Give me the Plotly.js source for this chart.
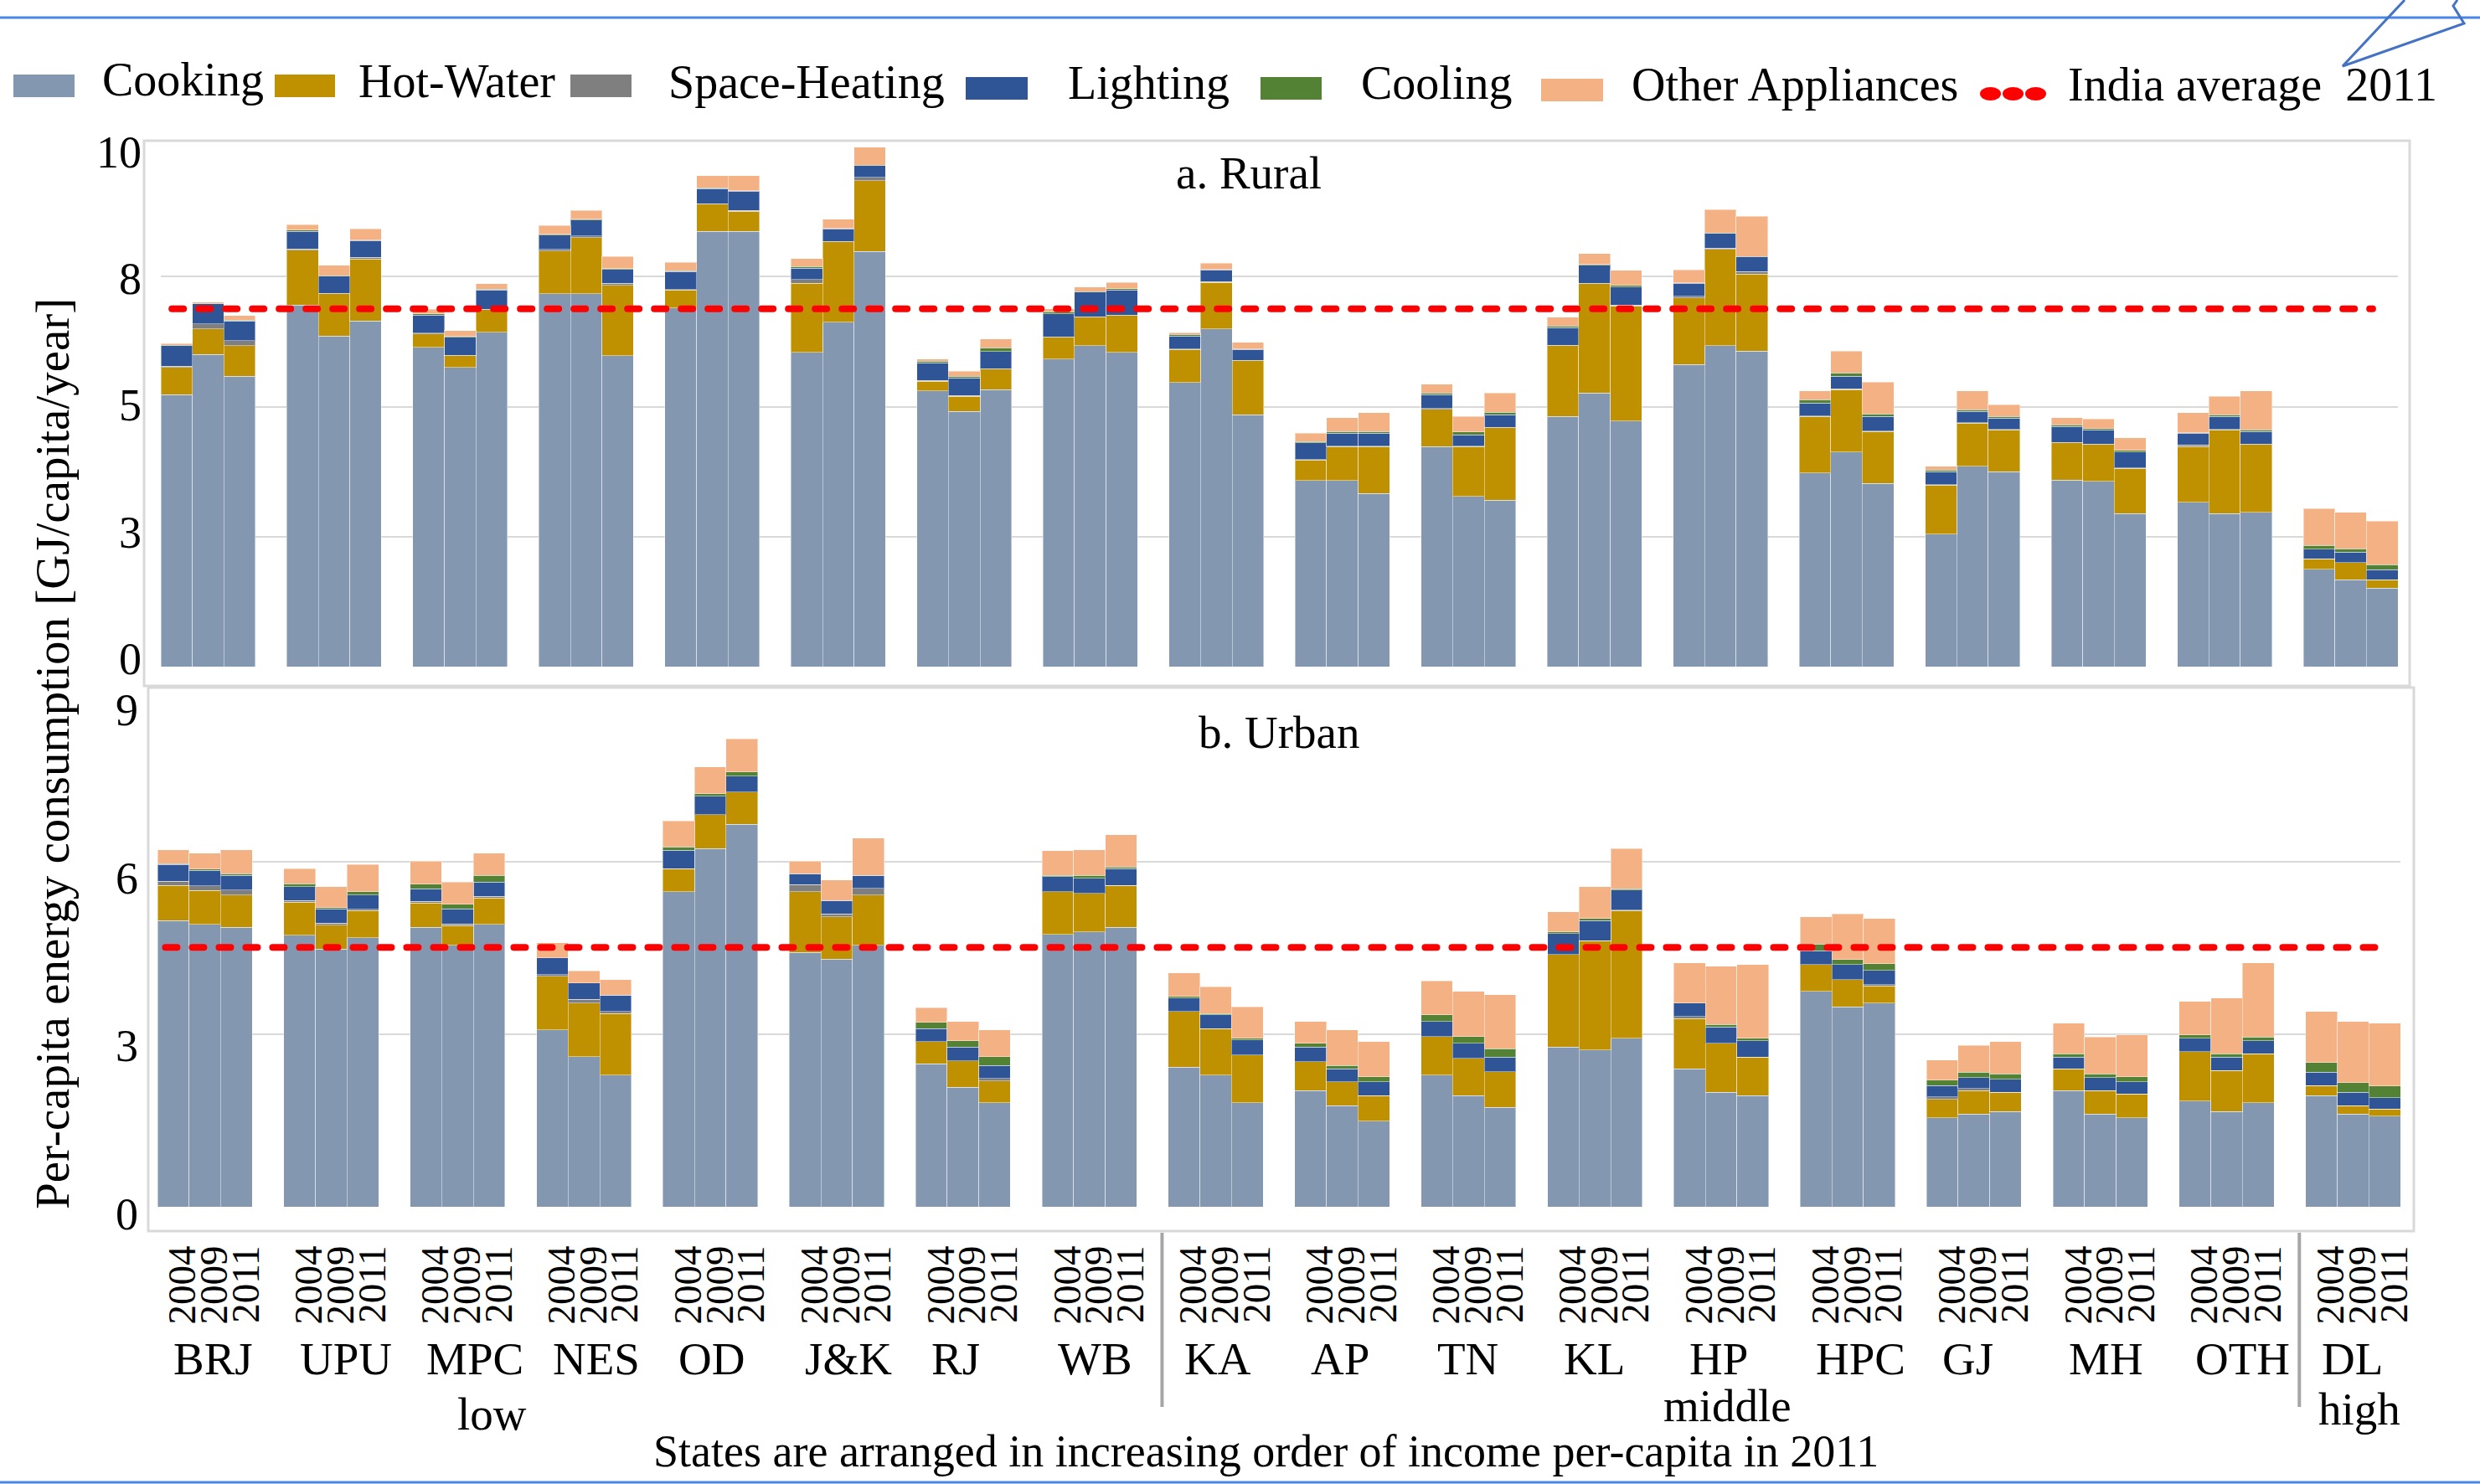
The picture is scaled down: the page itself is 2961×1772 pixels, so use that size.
<!DOCTYPE html>
<html>
<head>
<meta charset="utf-8">
<script src="https://cdn.plot.ly/plotly-3.0.1.min.js"></script>
<style>
html,body{margin:0;padding:0;background:#fff;}
#chart{width:2961px;height:1772px;}
</style>
</head>
<body>
<div id="chart"></div>
<script>
// ---------------- DATA ----------------
const states = ['BRJ','UPU','MPC','NES','OD','J&K','RJ','WB','KA','AP','TN','KL','HP','HPC','GJ','MH','OTH','DL'];
const years = ['2004','2009','2011'];
const incomeGroups = ['low','middle','high'];
const seriesNames = ['Cooking','Hot-Water','Space-Heating','Lighting','Cooling','Other Appliances'];
const averageName = 'India average  2011';

// Rural, GJ/capita/year (state order above, 3 years each)
const ruralCooking = [5.23,6.00,5.58, 6.95,6.36,6.65, 6.14,5.75,6.43, 7.17,7.17,5.98, 6.90,8.37,8.37, 6.04,6.62,7.98, 5.30,4.91,5.33, 5.91,6.17,6.04, 5.46,6.49,4.84, 3.58,3.58,3.33, 4.23,3.27,3.20, 4.81,5.26,4.72, 5.81,6.17,6.07, 3.72,4.13,3.52, 2.55,3.85,3.75, 3.59,3.56,2.94, 3.16,2.94,2.97, 1.87,1.67,1.51];
const ruralHotWater = [0.52,0.49,0.59, 1.06,0.81,1.19, 0.26,0.23,0.43, 0.82,1.08,1.35, 0.34,0.52,0.39, 1.33,1.55,1.36, 0.19,0.29,0.39, 0.42,0.55,0.71, 0.64,0.90,1.04, 0.39,0.65,0.90, 0.72,0.96,1.39, 1.36,2.10,2.22, 1.28,1.85,1.48, 1.09,1.20,1.00, 0.94,0.83,0.80, 0.71,0.71,0.87, 1.07,1.61,1.30, 0.20,0.33,0.16];
const ruralSpaceHeating = [0.03,0.10,0.10, 0.02,0.01,0.03, 0.01,0.01,0.01, 0.03,0.03,0.04, 0.01,0.01,0.01, 0.07,0.01,0.07, 0.01,0.01,0.01, 0.01,0.01,0.01, 0.01,0.01,0.01, 0.01,0.01,0.01, 0.01,0.01,0.01, 0.01,0.01,0.01, 0.03,0.03,0.05, 0.01,0.01,0.01, 0.01,0.01,0.01, 0.01,0.01,0.01, 0.03,0.01,0.01, 0.00,0.00,0.00];
const ruralLighting = [0.39,0.39,0.38, 0.34,0.33,0.32, 0.35,0.34,0.37, 0.28,0.31,0.27, 0.35,0.29,0.37, 0.22,0.24,0.22, 0.34,0.34,0.33, 0.44,0.47,0.48, 0.25,0.23,0.21, 0.32,0.25,0.25, 0.27,0.22,0.24, 0.34,0.35,0.35, 0.25,0.28,0.28, 0.25,0.24,0.28, 0.25,0.22,0.22, 0.31,0.27,0.31, 0.23,0.25,0.24, 0.19,0.20,0.19];
const ruralCoolingUse = [0.01,0.00,0.01, 0.02,0.01,0.01, 0.02,0.02,0.02, 0.01,0.01,0.01, 0.01,0.02,0.01, 0.03,0.01,0.01, 0.03,0.03,0.07, 0.04,0.01,0.03, 0.03,0.01,0.01, 0.03,0.03,0.03, 0.03,0.05,0.05, 0.03,0.01,0.03, 0.01,0.01,0.01, 0.06,0.07,0.05, 0.03,0.03,0.03, 0.03,0.03,0.03, 0.01,0.03,0.03, 0.07,0.07,0.10];
const ruralOther = [0.03,0.03,0.09, 0.11,0.20,0.22, 0.09,0.11,0.10, 0.17,0.17,0.24, 0.16,0.23,0.29, 0.16,0.17,0.35, 0.04,0.10,0.17, 0.06,0.09,0.12, 0.03,0.12,0.13, 0.16,0.27,0.36, 0.17,0.30,0.37, 0.17,0.21,0.29, 0.25,0.45,0.77, 0.17,0.42,0.61, 0.07,0.36,0.23, 0.14,0.18,0.24, 0.38,0.36,0.75, 0.71,0.70,0.84];

// Urban, GJ/capita/year
const urbanCooking = [4.98,4.91,4.86, 4.72,4.48,4.68, 4.86,4.55,4.91, 3.08,2.61,2.29, 5.48,6.23,6.65, 4.42,4.31,4.55, 2.49,2.08,1.81, 4.74,4.78,4.86, 2.43,2.29,1.81, 2.02,1.76,1.49, 2.29,1.93,1.73, 2.78,2.73,2.93, 2.40,1.99,1.93, 3.75,3.48,3.54, 1.55,1.61,1.66, 2.02,1.61,1.55, 1.84,1.66,1.81, 1.93,1.61,1.58];
const urbanHotWater = [0.61,0.59,0.56, 0.58,0.42,0.47, 0.42,0.34,0.46, 0.93,0.93,1.07, 0.40,0.59,0.56, 1.06,0.73,0.87, 0.38,0.46,0.38, 0.74,0.67,0.73, 0.97,0.81,0.83, 0.50,0.41,0.44, 0.67,0.65,0.62, 1.61,1.90,2.22, 0.87,0.85,0.67, 0.46,0.47,0.30, 0.32,0.41,0.33, 0.38,0.41,0.41, 0.86,0.71,0.85, 0.18,0.15,0.12];
const urbanSpaceHeating = [0.07,0.08,0.09, 0.03,0.03,0.02, 0.03,0.03,0.03, 0.03,0.07,0.04, 0.00,0.00,0.00, 0.12,0.05,0.12, 0.00,0.00,0.04, 0.00,0.00,0.00, 0.00,0.00,0.00, 0.00,0.00,0.00, 0.00,0.00,0.00, 0.00,0.00,0.01, 0.04,0.00,0.00, 0.00,0.00,0.02, 0.04,0.04,0.00, 0.00,0.00,0.00, 0.00,0.00,0.00, 0.00,0.00,0.00];
const urbanLighting = [0.29,0.27,0.25, 0.24,0.25,0.25, 0.22,0.26,0.25, 0.29,0.28,0.28, 0.32,0.32,0.28, 0.19,0.24,0.22, 0.23,0.24,0.23, 0.26,0.26,0.29, 0.23,0.24,0.26, 0.26,0.23,0.24, 0.26,0.26,0.25, 0.36,0.35,0.35, 0.23,0.29,0.29, 0.24,0.26,0.25, 0.20,0.19,0.23, 0.20,0.23,0.21, 0.23,0.23,0.23, 0.23,0.23,0.20];
const urbanCoolingUse = [0.02,0.02,0.03, 0.05,0.02,0.06, 0.08,0.08,0.11, 0.00,0.00,0.00, 0.06,0.04,0.07, 0.00,0.00,0.00, 0.11,0.11,0.15, 0.02,0.05,0.03, 0.03,0.02,0.03, 0.06,0.06,0.09, 0.12,0.12,0.15, 0.03,0.03,0.02, 0.00,0.04,0.04, 0.12,0.09,0.12, 0.09,0.09,0.09, 0.06,0.06,0.09, 0.06,0.06,0.06, 0.17,0.17,0.20];
const urbanOther = [0.24,0.28,0.42, 0.26,0.37,0.47, 0.40,0.39,0.39, 0.26,0.21,0.27, 0.45,0.47,0.58, 0.22,0.35,0.65, 0.25,0.33,0.47, 0.43,0.45,0.56, 0.41,0.47,0.55, 0.38,0.62,0.61, 0.59,0.79,0.94, 0.35,0.56,0.70, 0.70,1.01,1.28, 0.47,0.79,0.78, 0.35,0.47,0.56, 0.53,0.64,0.73, 0.58,0.97,1.29, 0.89,1.06,1.09];

const ruralAverage2011 = 6.88;
const urbanAverage2011 = 4.51;

const ruralTickVals = [0, 2.5, 5, 7.5, 10];
const ruralTickText = ['0', '3', '5', '8', '10'];
const urbanTickVals = [0, 3, 6, 9];
const urbanTickText = ['0', '3', '6', '9'];

// ---------------- STYLE ----------------
const seriesColors = ['#8497B0', '#BF9000', '#7F7F7F', '#2F5597', '#548235', '#F4B183'];
const FONT = 'Liberation Serif, Times New Roman, serif';
const W = 2961, H = 1772;
const px = v => v / W;
const py = v => 1 - v / H;

// category positions: one slot per year, one empty slot between states
const positions = [];
const yearLabels = [];
states.forEach((s, i) => years.forEach((y, j) => { positions.push(4 * i + j); yearLabels.push(y); }));
const lastPos = positions[positions.length - 1];

const ruralSeries = [ruralCooking, ruralHotWater, ruralSpaceHeating, ruralLighting, ruralCoolingUse, ruralOther];
const urbanSeries = [urbanCooking, urbanHotWater, urbanSpaceHeating, urbanLighting, urbanCoolingUse, urbanOther];

const traces = [];
seriesNames.forEach((name, k) => {
  traces.push({
    type: 'bar', name: name, x: positions, y: ruralSeries[k], xaxis: 'x', yaxis: 'y',
    marker: {color: seriesColors[k], line: {color: 'rgba(255,255,255,0.45)', width: 1}},
    showlegend: false, legendgroup: name
  });
});
seriesNames.forEach((name, k) => {
  traces.push({
    type: 'bar', name: name, x: positions, y: urbanSeries[k], xaxis: 'x2', yaxis: 'y2',
    marker: {color: seriesColors[k], line: {color: 'rgba(255,255,255,0.45)', width: 1}},
    showlegend: false, legendgroup: name
  });
});
traces.push({
  type: 'scatter', mode: 'lines', name: averageName, x: [positions[0] - 0.15, lastPos - 0.3],
  y: [ruralAverage2011, ruralAverage2011], xaxis: 'x', yaxis: 'y',
  line: {color: '#FF0000', width: 8, dash: '14px,18px'}, showlegend: false
});
traces.push({
  type: 'scatter', mode: 'lines', name: averageName, x: [positions[0] - 0.25, lastPos + 0.15],
  y: [urbanAverage2011, urbanAverage2011], xaxis: 'x2', yaxis: 'y2',
  line: {color: '#FF0000', width: 8, dash: '14px,18px'}, showlegend: false
});
// empty traces that carry the tick-label axes (labels sit slightly off the gridlines, as in the original)
traces.push({type: 'scatter', mode: 'lines', x: [], y: [], xaxis: 'x', yaxis: 'y3', showlegend: false, hoverinfo: 'skip'});
traces.push({type: 'scatter', mode: 'lines', x: [], y: [], xaxis: 'x2', yaxis: 'y4', showlegend: false, hoverinfo: 'skip'});

const gridColor = '#D9D9D9';
const gridAxis = {showgrid: true, gridcolor: gridColor, gridwidth: 2, zeroline: false, showline: false, ticks: '', showticklabels: false, fixedrange: true};
const labelAxis = {showgrid: false, zeroline: false, showline: false, ticks: '', fixedrange: true,
  tickfont: {size: 54, family: FONT, color: '#000'}, ticklabelstandoff: 22};

const annotations = [];
// panel titles
annotations.push({text: 'a. Rural', xref: 'paper', yref: 'paper', x: px(1491), y: py(206), xanchor: 'center', yanchor: 'middle', showarrow: false, font: {size: 55}});
annotations.push({text: 'b. Urban', xref: 'paper', yref: 'paper', x: px(1527), y: py(874), xanchor: 'center', yanchor: 'middle', showarrow: false, font: {size: 55}});
// y axis title
annotations.push({text: 'Per-capita energy consumption [GJ/capita/year]', xref: 'paper', yref: 'paper', x: px(62), y: py(900), textangle: -90, xanchor: 'center', yanchor: 'middle', showarrow: false, font: {size: 57}});
// state labels
states.forEach((s, i) => annotations.push({text: s, xref: 'x2', yref: 'paper', x: 4 * i - 0.05, y: py(1622), xanchor: 'left', yanchor: 'middle', showarrow: false, font: {size: 55}}));
// income group labels
const groupX = [10.1, 49.2, 69.2];
const groupY = [1688, 1678, 1682];
incomeGroups.forEach((g, i) => annotations.push({text: g, xref: 'x2', yref: 'paper', x: groupX[i], y: py(groupY[i]), xanchor: 'center', yanchor: 'middle', showarrow: false, font: {size: 55}}));
// bottom title
annotations.push({text: 'States are arranged in increasing order of income per-capita in 2011', xref: 'paper', yref: 'paper', x: px(1512), y: py(1733), xanchor: 'center', yanchor: 'middle', showarrow: false, font: {size: 54}});

// manual legend
const legendItems = [
  {x0: 16, x1: 89, y0: 89, y1: 116, tx: 120, ty: 95},
  {x0: 328, x1: 400, y0: 89, y1: 116, tx: 426, ty: 97},
  {x0: 681, x1: 754, y0: 89, y1: 116, tx: 796, ty: 98},
  {x0: 1153, x1: 1227, y0: 92, y1: 119, tx: 1273, ty: 99},
  {x0: 1505, x1: 1578, y0: 92, y1: 119, tx: 1623, ty: 99},
  {x0: 1840, x1: 1914, y0: 94, y1: 121, tx: 1946, ty: 101}
];
const shapes = [];
seriesNames.forEach((name, k) => {
  const it = legendItems[k];
  shapes.push({type: 'rect', xref: 'paper', yref: 'paper', x0: px(it.x0), x1: px(it.x1), y0: py(it.y1), y1: py(it.y0), fillcolor: seriesColors[k], line: {width: 0}});
  annotations.push({text: name, xref: 'paper', yref: 'paper', x: px(it.tx), y: py(it.ty), xanchor: 'left', yanchor: 'middle', showarrow: false, font: {size: 56}});
});
[[2364, 2389], [2391, 2416], [2418, 2443]].forEach(d => {
  shapes.push({type: 'circle', xref: 'paper', yref: 'paper', x0: px(d[0]), x1: px(d[1]), y0: py(120), y1: py(104), fillcolor: '#FF0000', line: {width: 0}});
});
annotations.push({text: averageName, xref: 'paper', yref: 'paper', x: px(2467), y: py(101), xanchor: 'left', yanchor: 'middle', showarrow: false, font: {size: 56}});

// panel frames
shapes.push({type: 'rect', xref: 'paper', yref: 'paper', x0: px(172), x1: px(2877), y0: py(819), y1: py(168), line: {color: gridColor, width: 3}, layer: 'below'});
shapes.push({type: 'rect', xref: 'paper', yref: 'paper', x0: px(177), x1: px(2882), y0: py(1470), y1: py(821), line: {color: gridColor, width: 3}, layer: 'below'});
// income-group separators on the category axis
[-0.7, 31.3, 67.3].forEach(xv => {
  shapes.push({type: 'line', xref: 'x2', yref: 'paper', x0: xv, x1: xv, y0: py(1472), y1: py(1680), line: {color: '#A6A6A6', width: 4}});
});
// page decorations (blue rules and callout tail)
shapes.push({type: 'line', xref: 'paper', yref: 'paper', x0: 0, x1: 1, y0: py(21), y1: py(21), line: {color: '#4A86E8', width: 3}});
shapes.push({type: 'line', xref: 'paper', yref: 'paper', x0: 0, x1: 1, y0: py(1770), y1: py(1770), line: {color: '#4A86E8', width: 3}});
shapes.push({type: 'path', xref: 'paper', yref: 'paper',
  path: 'M' + px(2871) + ',' + py(0) + ' L' + px(2797) + ',' + py(79) + ' L' + px(2942) + ',' + py(28) + ' L' + px(2929) + ',' + py(7) + ' L' + px(2934) + ',' + py(0),
  line: {color: '#4472C4', width: 3}});

const layout = {
  width: W, height: H,
  margin: {l: 0, r: 0, t: 0, b: 0},
  paper_bgcolor: '#ffffff', plot_bgcolor: 'rgba(0,0,0,0)',
  barmode: 'stack', bargap: 0, showlegend: false,
  font: {family: FONT, size: 55, color: '#000'},
  xaxis: {domain: [px(192), px(2863)], range: [-0.5, lastPos + 0.5], anchor: 'y', showticklabels: false, showgrid: false, zeroline: false, showline: false, ticks: '', fixedrange: true},
  yaxis: Object.assign({domain: [py(796), py(175)], range: [0, 10], anchor: 'x', tickvals: ruralTickVals}, gridAxis),
  yaxis3: Object.assign({domain: [py(786), py(181)], range: [0, 10], anchor: 'x', tickvals: ruralTickVals, ticktext: ruralTickText}, labelAxis),
  xaxis2: {domain: [px(188), px(2866)], range: [-0.5, lastPos + 0.5], anchor: 'y2',
    tickvals: positions.map(p => p + 0.3), ticktext: yearLabels, tickangle: -90,
    tickfont: {size: 47, family: FONT, color: '#000'}, ticklabelstandoff: 36,
    showgrid: false, zeroline: false, showline: false, ticks: '', fixedrange: true},
  yaxis2: Object.assign({domain: [py(1441), py(823)], range: [0, 9], anchor: 'x2', tickvals: urbanTickVals}, gridAxis),
  yaxis4: Object.assign({domain: [py(1449), py(847)], range: [0, 9], anchor: 'x2', tickvals: urbanTickVals, ticktext: urbanTickText}, labelAxis),
  annotations: annotations,
  shapes: shapes
};

Plotly.newPlot('chart', traces, layout, {staticPlot: true, displayModeBar: false}).then(() => {
  document.querySelectorAll('.scatterlayer path.js-line').forEach(p => { p.style.strokeLinecap = 'round'; });
});
</script>
</body>
</html>
